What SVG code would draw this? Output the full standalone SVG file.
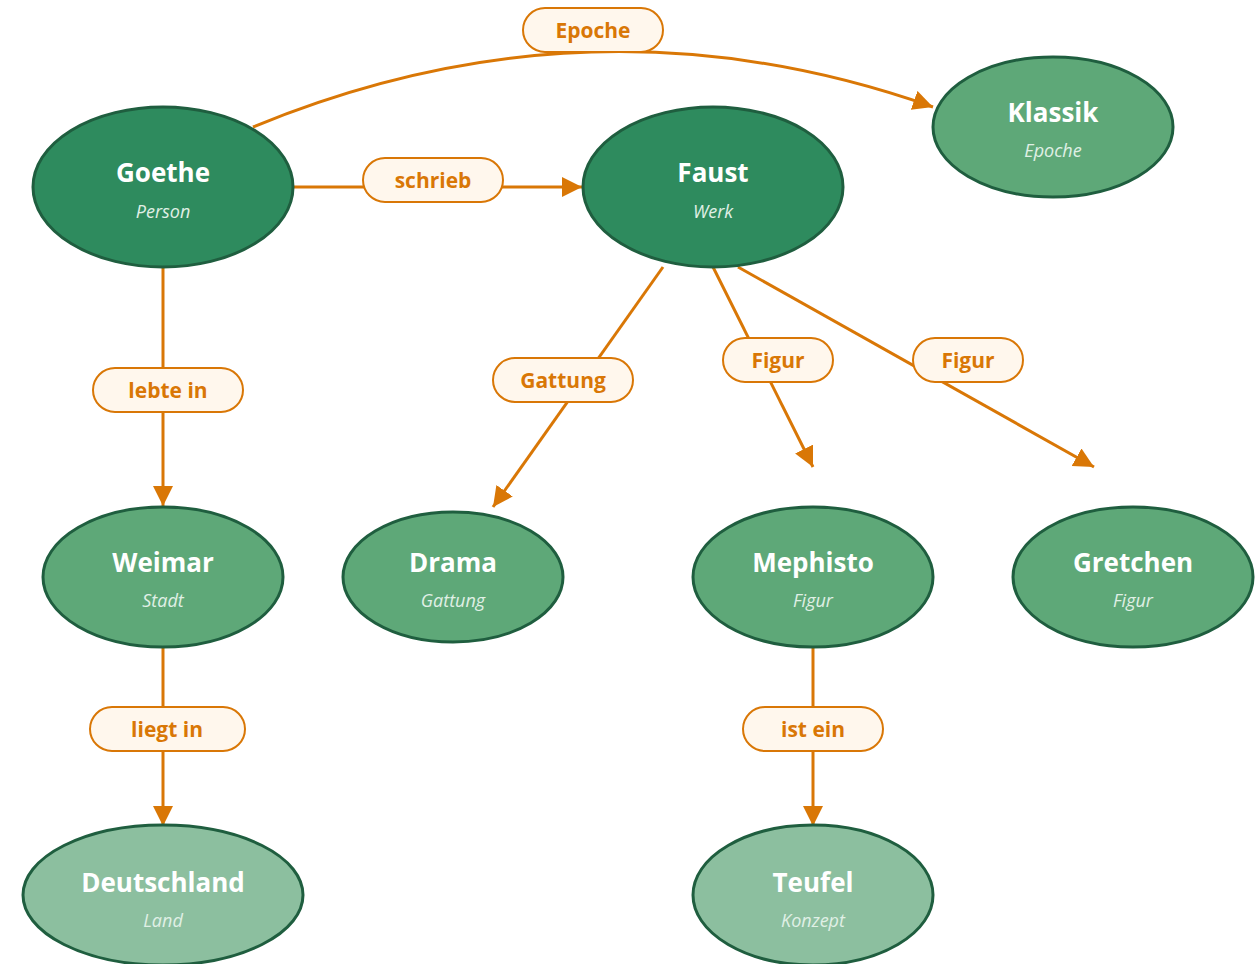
<svg xmlns="http://www.w3.org/2000/svg" width="1258" height="964" viewBox="0 0 1258 964">
<style>
.n1{fill:#2e8b5e;stroke:#1f5e3f;stroke-width:3}
.n2{fill:#5ea878;stroke:#1f5e3f;stroke-width:3}
.n3{fill:#8cbf9f;stroke:#1f5e3f;stroke-width:3}
.t{font-family:"Open Sans","Noto Sans",sans-serif;font-weight:bold;font-size:26px;fill:#ffffff;text-anchor:middle}
.s{font-family:"Open Sans","Noto Sans",sans-serif;font-style:italic;font-size:18px;fill:#e0f0e6;text-anchor:middle}
.e{fill:none;stroke:#d97706;stroke-width:3}
.lb{fill:#fff7ed;stroke:#d97706;stroke-width:2}
.lt{font-family:"Open Sans","Noto Sans",sans-serif;font-weight:bold;font-size:21px;fill:#d97706;text-anchor:middle}
</style>
<defs>
<marker id="arr" markerUnits="userSpaceOnUse" markerWidth="22" markerHeight="22" refX="20" refY="10" orient="auto">
<path d="M0,0 L20,10 L0,20 Z" fill="#d97706"/>
</marker>
</defs>
<g id="connectors">
<path class="e" d="M253,127 Q593,-13 933,107" marker-end="url(#arr)"/>
<line class="e" x1="293" y1="187" x2="582" y2="187" marker-end="url(#arr)"/>
<line class="e" x1="163" y1="267" x2="163" y2="506" marker-end="url(#arr)"/>
<line class="e" x1="163" y1="647" x2="163" y2="826" marker-end="url(#arr)"/>
<line class="e" x1="663" y1="267" x2="493" y2="507" marker-end="url(#arr)"/>
<line class="e" x1="713" y1="267" x2="813" y2="467" marker-end="url(#arr)"/>
<line class="e" x1="738" y1="267" x2="1094" y2="467" marker-end="url(#arr)"/>
<line class="e" x1="813" y1="647" x2="813" y2="826" marker-end="url(#arr)"/>
<g id="label-epoche"><rect class="lb" x="523" y="8" width="140" height="44" rx="22"/><text class="lt" x="593" y="38">Epoche</text></g>
<g id="label-schrieb"><rect class="lb" x="363" y="158" width="140" height="44" rx="22"/><text class="lt" x="433" y="188">schrieb</text></g>
<g id="label-lebtein"><rect class="lb" x="93" y="368" width="150" height="44" rx="22"/><text class="lt" x="168" y="398">lebte in</text></g>
<g id="label-liegtin"><rect class="lb" x="90" y="707" width="155" height="44" rx="22"/><text class="lt" x="167" y="737">liegt in</text></g>
<g id="label-gattung"><rect class="lb" x="493" y="358" width="140" height="44" rx="22"/><text class="lt" x="563" y="388">Gattung</text></g>
<g id="label-figur1"><rect class="lb" x="723" y="338" width="110" height="44" rx="22"/><text class="lt" x="778" y="368">Figur</text></g>
<g id="label-figur2"><rect class="lb" x="913" y="338" width="110" height="44" rx="22"/><text class="lt" x="968" y="368">Figur</text></g>
<g id="label-istein"><rect class="lb" x="743" y="707" width="140" height="44" rx="22"/><text class="lt" x="813" y="737">ist ein</text></g>
</g>
<g id="node-goethe"><ellipse class="n1" cx="163" cy="187" rx="130" ry="80"/><text class="t" x="163" y="182">Goethe</text><text class="s" x="163" y="218">Person</text></g>
<g id="node-faust"><ellipse class="n1" cx="713" cy="187" rx="130" ry="80"/><text class="t" x="713" y="182">Faust</text><text class="s" x="713" y="218">Werk</text></g>
<g id="node-klassik"><ellipse class="n2" cx="1053" cy="127" rx="120" ry="70"/><text class="t" x="1053" y="122">Klassik</text><text class="s" x="1053" y="157">Epoche</text></g>
<g id="node-weimar"><ellipse class="n2" cx="163" cy="577" rx="120" ry="70"/><text class="t" x="163" y="572">Weimar</text><text class="s" x="163" y="607">Stadt</text></g>
<g id="node-drama"><ellipse class="n2" cx="453" cy="577" rx="110" ry="65"/><text class="t" x="453" y="572">Drama</text><text class="s" x="453" y="607">Gattung</text></g>
<g id="node-mephisto"><ellipse class="n2" cx="813" cy="577" rx="120" ry="70"/><text class="t" x="813" y="572">Mephisto</text><text class="s" x="813" y="607">Figur</text></g>
<g id="node-gretchen"><ellipse class="n2" cx="1133" cy="577" rx="120" ry="70"/><text class="t" x="1133" y="572">Gretchen</text><text class="s" x="1133" y="607">Figur</text></g>
<g id="node-deutschland"><ellipse class="n3" cx="163" cy="895" rx="140" ry="70"/><text class="t" x="163" y="892">Deutschland</text><text class="s" x="163" y="927">Land</text></g>
<g id="node-teufel"><ellipse class="n3" cx="813" cy="895" rx="120" ry="70"/><text class="t" x="813" y="892">Teufel</text><text class="s" x="813" y="927">Konzept</text></g>
</svg>
